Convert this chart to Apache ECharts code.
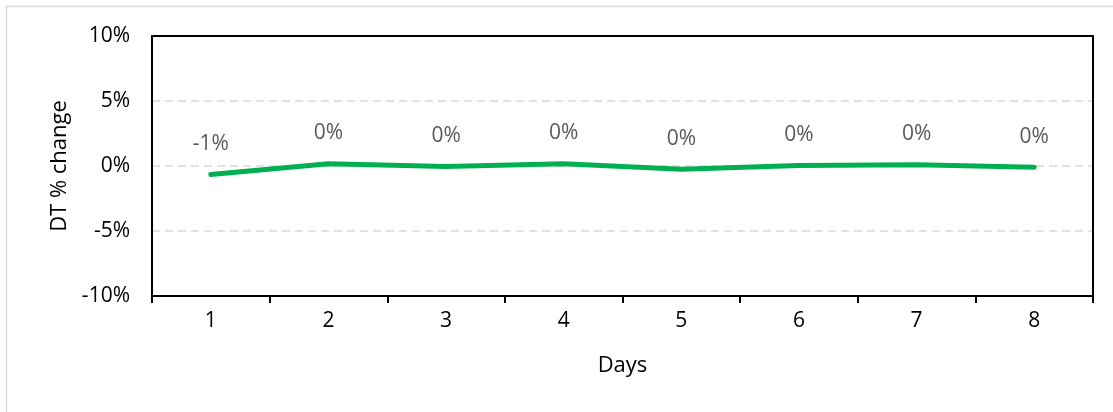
<!DOCTYPE html>
<html>
<head>
<meta charset="utf-8">
<script src="https://cdn.jsdelivr.net/npm/echarts@6/dist/echarts.min.js"></script>
<style>
  html, body { margin: 0; padding: 0; background: #fff; }
  #chart { width: 1113px; height: 412px; }
</style>
</head>
<body>
<div id="chart"></div>
<script>
const days = ['1', '2', '3', '4', '5', '6', '7', '8']
const dtChange = [-0.65, 0.18, -0.03, 0.18, -0.25, 0.03, 0.1, -0.1]
const yTicks = { min: -10, max: 10, interval: 5 }

const font = '"Open Sans", "Noto Sans", sans-serif'

const chart = echarts.init(document.getElementById('chart'))
chart.setOption({
  animation: false,
  textStyle: { fontFamily: font },
  graphic: [{
    type: 'rect',
    shape: { x: 6.5, y: 6.5, width: 1200, height: 600 },
    style: { fill: 'none', stroke: '#d9d9d9', lineWidth: 1.5 },
    silent: true,
  }],
  grid: {
    left: 152,
    top: 36,
    right: 20,
    bottom: 116,
  },
  xAxis: [{
    type: 'category',
    data: days,
    boundaryGap: true,
    name: 'Days',
    nameLocation: 'middle',
    nameGap: 59,
    nameTextStyle: { color: '#000', fontSize: 22, fontFamily: font },
    axisLine: { onZero: false, lineStyle: { color: '#000', width: 2 } },
    axisTick: { show: true, length: 7, lineStyle: { color: '#000', width: 2 } },
    axisLabel: { color: '#000', fontSize: 21, margin: 15, fontFamily: font },
  }, {
    type: 'category',
    position: 'top',
    data: days,
    axisLine: { onZero: false, lineStyle: { color: '#000', width: 2 } },
    axisTick: { show: false },
    axisLabel: { show: false },
  }],
  yAxis: [{
    type: 'value',
    min: yTicks.min,
    max: yTicks.max,
    interval: yTicks.interval,
    name: 'DT % change',
    nameLocation: 'middle',
    nameGap: 81,
    nameRotate: 90,
    nameTextStyle: { color: '#000', fontSize: 22, fontFamily: font },
    axisLine: { show: true, onZero: false, lineStyle: { color: '#000', width: 2 } },
    axisTick: { show: false },
    axisLabel: {
      color: '#000',
      fontSize: 21,
      margin: 22,
      fontFamily: font,
      formatter: (v) => v + '%',
    },
    splitLine: {
      show: true,
      showMinLine: false,
      showMaxLine: false,
      lineStyle: { color: '#d9d9d9', type: [8, 5], width: 1.5 },
    },
  }, {
    type: 'value',
    position: 'right',
    min: yTicks.min,
    max: yTicks.max,
    interval: yTicks.interval,
    axisLine: { show: true, onZero: false, lineStyle: { color: '#000', width: 2 } },
    axisTick: { show: false },
    axisLabel: { show: false },
    splitLine: { show: false },
  }],
  series: [{
    type: 'line',
    data: dtChange,
    symbol: 'circle',
    symbolSize: 2,
    showSymbol: true,
    itemStyle: { color: '#00b050' },
    lineStyle: { color: '#00b050', width: 5, cap: 'round', join: 'round' },
    label: {
      show: true,
      position: 'top',
      distance: 19,
      color: '#595959',
      fontSize: 21,
      fontFamily: font,
      formatter: (p) => Math.round(p.value) + '%',
    },
  }],
})
</script>
</body>
</html>
